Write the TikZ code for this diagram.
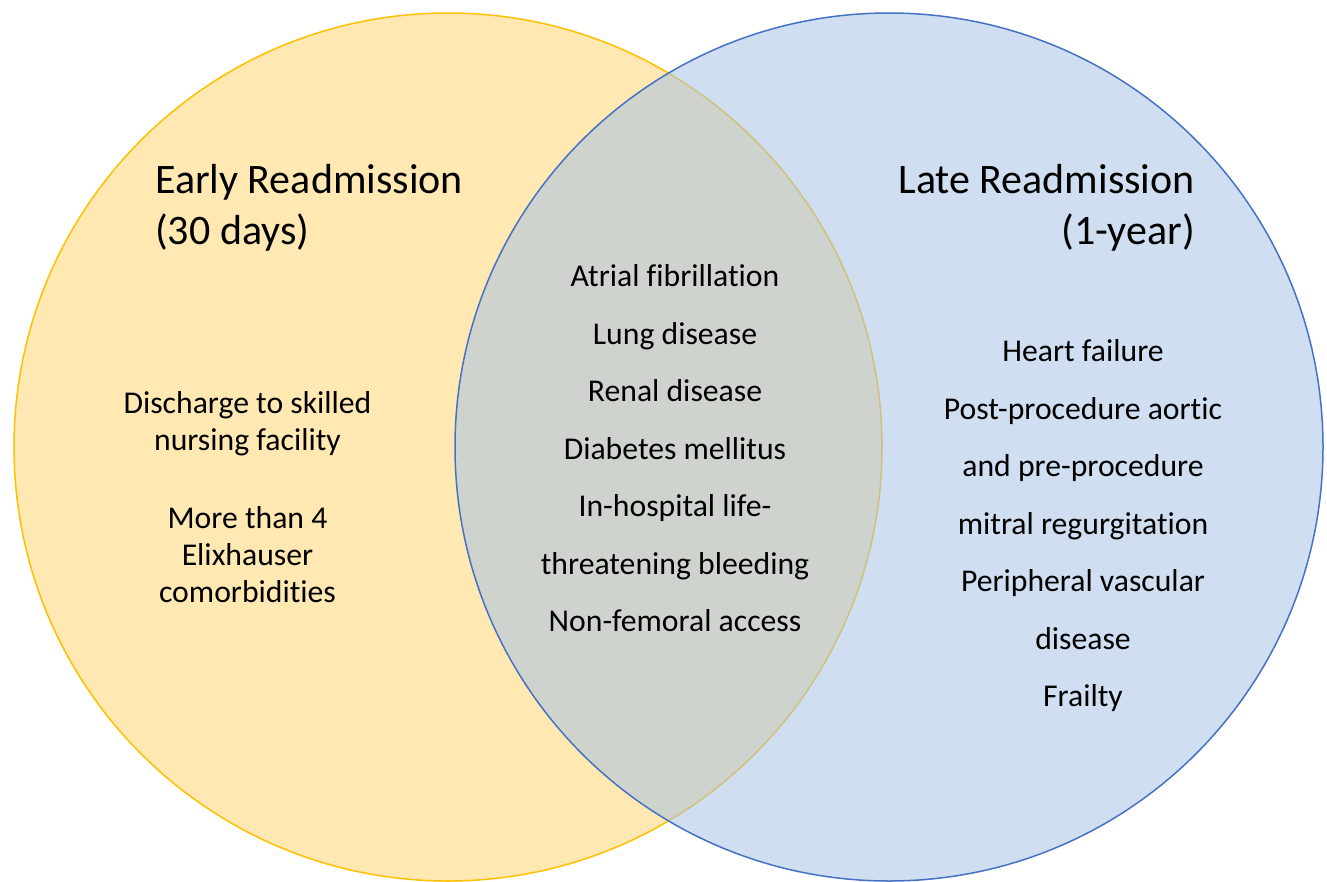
\documentclass[tikz,border=0pt]{standalone}
\usepackage{fontspec}
\setmainfont{Carlito}[Ligatures=CommonOff]
\usetikzlibrary{positioning}
\definecolor{earlyFill}{RGB}{255,232,178}
\definecolor{earlyLine}{RGB}{255,192,0}
\definecolor{lateFill}{RGB}{168,195,228}
\definecolor{lateLine}{RGB}{68,114,196}
\tikzset{
  headtext/.style={inner sep=0pt, font=\fontsize{42}{51}\selectfont},
  bodytext/.style={inner sep=0pt, align=center, font=\fontsize{31.7}{57.5}\selectfont}
}

\begin{document}
\begin{tikzpicture}[x=1pt, y=-1pt]
  \useasboundingbox (0,0) rectangle (1327,881);

  % the two sets
  \filldraw [fill=earlyFill, draw=earlyLine, line width=1.5pt] (448,447) circle (434pt);
  \filldraw [fill=lateFill, fill opacity=0.55, draw=lateLine, line width=1.5pt] (889,447) circle (434pt);

  % headings
  \node [headtext, anchor=west, align=left] (earlyhead) at (155,207.5) {Early Readmission\\(30 days)};
  \node [headtext, anchor=east, align=right] (latehead) at (1195,207.5) {Late Readmission\\(1-year)};

  % risk factors
  \node [bodytext, font=\fontsize{31.7}{37}\selectfont] (earlybody) at (247.5,497)
    {Discharge to skilled\\nursing facility\\[41pt]More than 4\\Elixhauser\\comorbidities};
  \node [bodytext] (sharedbody) at (675,448.5)
    {Atrial fibrillation\\Lung disease\\Renal disease\\Diabetes mellitus\\In-hospital life-\\threatening bleeding\\Non-femoral access};
  \node [bodytext] (latebody) at (1083,526)
    {Heart failure\\Post-procedure aortic\\and pre-procedure\\mitral regurgitation\\Peripheral vascular\\disease\\Frailty};
\end{tikzpicture}
\end{document}
